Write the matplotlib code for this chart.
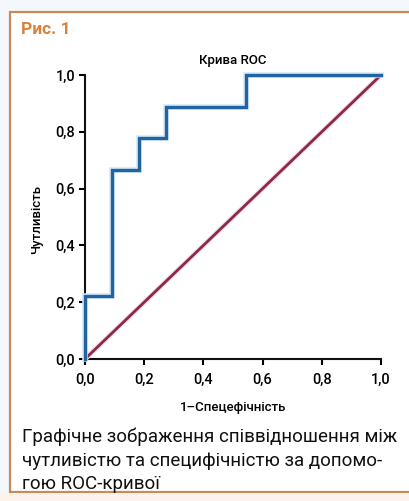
import matplotlib
matplotlib.use("Agg")
import matplotlib.pyplot as plt
import matplotlib.patheffects as pe
from matplotlib.patches import Rectangle

# Data
fpr = [0.0, 0.0, 1/11, 1/11, 2/11, 2/11, 3/11, 3/11, 6/11, 6/11, 1.0]
tpr = [0.0, 2/9, 2/9, 6/9, 6/9, 7/9, 7/9, 8/9, 8/9, 1.0, 1.0]
diag_x = [0.0, 1.0]
diag_y = [0.0, 1.0]
ticks = [0.0, 0.2, 0.4, 0.6, 0.8, 1.0]
tick_labels = ["0,0", "0,2", "0,4", "0,6", "0,8", "1,0"]

W, H = 409, 501
fig = plt.figure(figsize=(W/100, H/100), dpi=100)
fig.patch.set_facecolor("#f4f8fc")

def fx(px): return px / W
def fy(py): return 1 - py / H

# panel background + border
bg = Rectangle((fx(10), fy(492)), fx(420) - fx(10), fy(12) - fy(492),
               transform=fig.transFigure, facecolor="white",
               edgecolor="#c98a55", linewidth=1.6, zorder=-2)
fig.patches.append(bg)
bot = Rectangle((0, 0), 1, fy(493), transform=fig.transFigure,
                facecolor="#fdf3ec", edgecolor="none", zorder=-2)
fig.patches.append(bot)

font = ["Roboto", "DejaVu Sans"]

fig.text(fx(21), fy(29), "Рис. 1", color="#d9823e", fontsize=12.5,
         fontweight="bold", family=font, va="center", ha="left")

ax = fig.add_axes([fx(85), fy(359), fx(381) - fx(85), fy(75) - fy(359)])
ax.set_xlim(0, 1)
ax.set_ylim(0, 1)
ax.patch.set_alpha(0)

ax.plot(diag_x, diag_y, color="#8a2a48", lw=2.0, solid_capstyle="butt",
        clip_on=False, zorder=3,
        path_effects=[pe.Stroke(linewidth=3.6, foreground="#f6dde4"), pe.Normal()])
ax.plot(fpr, tpr, color="#2263a2", lw=2.4, clip_on=False, zorder=4,
        solid_joinstyle="miter",
        path_effects=[pe.Stroke(linewidth=4.0, foreground="#d3e8f8"), pe.Normal()])

for s in ["top", "right"]:
    ax.spines[s].set_visible(False)
for s in ["left", "bottom"]:
    ax.spines[s].set_linewidth(1.5)
    ax.spines[s].set_color("#111111")

ax.set_xticks(ticks)
ax.set_yticks(ticks)
ax.set_xticklabels(tick_labels)
ax.set_yticklabels(tick_labels)
ax.tick_params(direction="out", length=4, width=1.5, labelsize=10.5)
ax.tick_params(axis="x", pad=6)
ax.tick_params(axis="y", pad=3)
for lab in ax.get_xticklabels() + ax.get_yticklabels():
    lab.set_family(font)
    lab.set_fontweight("medium")

ax.set_title("Крива ROC", fontsize=9.5, family=font, fontweight="medium", pad=8)
fig.text(fx(233), fy(407), "1–Спецефічність", fontsize=9.5, family=font,
         fontweight="medium", ha="center", va="center")
fig.text(fx(37), fy(220), "Чутливість", fontsize=9.5, family=font,
         fontweight="medium", ha="center", va="center", rotation=90)

cap = ["Графічне зображення співвідношення між",
       "чутливістю та специфічністю за допомо-",
       "гою ROC-кривої"]
for i, line in enumerate(cap):
    fig.text(fx(22), fy(437 + 23.5 * i), line, fontsize=13.5, family=font,
             ha="left", va="center", color="#111111")

fig.savefig("out.png", dpi=100, facecolor=fig.get_facecolor())
